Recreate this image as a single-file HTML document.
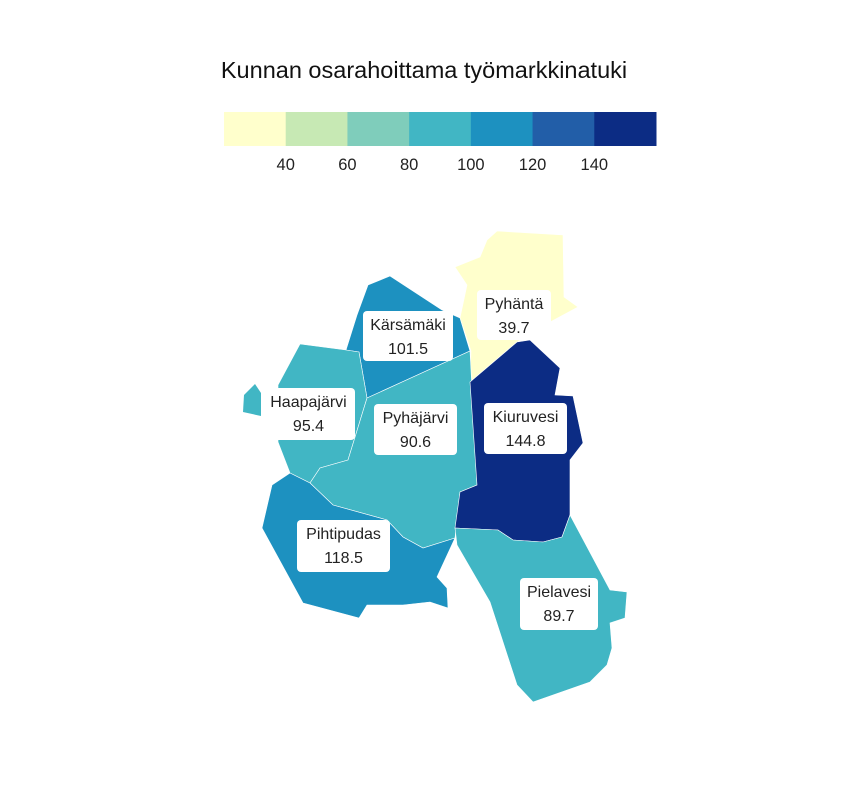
<!DOCTYPE html>
<html><head><meta charset="utf-8"><style>
body{margin:0;background:#fff;font-family:"Liberation Sans",sans-serif}
svg{display:block}
</style></head><body>
<svg id="chart" width="864" height="792">
<text x="424" y="78" text-anchor="middle" font-size="23.5" fill="#111">Kunnan osarahoittama työmarkkinatuki</text>
<g id="legend"></g>
<g id="map"></g>
<g id="labels"></g>
</svg>
<script>
const names=["Pyhäntä","Kärsämäki","Haapajärvi","Pyhäjärvi","Kiuruvesi","Pielavesi","Pihtipudas"];
const values=[39.7,101.5,95.4,90.6,144.8,89.7,118.5];
const legendTicks=[40,60,80,100,120,140];
const colors=["#ffffcc","#c7e9b4","#7fcdbb","#41b6c4","#1d91c0","#225ea8","#0c2c84"];
const shapes=[
[[480,257],[455,267],[467,285],[460,318],[471,351],[470,382],[517,342],[552,321],[578,307],[564,297],[563,235],[497,231],[487,240]],
[[390,276],[368,285],[357,315],[346,350],[359,352],[367,398],[470,351],[460,318],[442,310]],
[[300,344],[346,350],[359,352],[367,398],[348,460],[320,468],[310,483],[290,473],[278,442],[278,385]],
[[367,398],[470,351],[477,485],[460,492],[455,538],[423,548],[403,537],[387,520],[333,505],[310,483],[320,468],[348,460]],
[[470,382],[517,342],[530,340],[560,368],[555,395],[573,396],[583,443],[570,460],[570,515],[562,537],[543,542],[513,540],[498,530],[455,528],[460,492],[477,485]],
[[455,528],[498,530],[513,540],[543,542],[562,537],[570,515],[610,590],[627,592],[625,618],[610,623],[612,648],[607,665],[590,682],[533,702],[517,685],[490,602],[457,545]],
[[290,473],[310,483],[333,505],[387,520],[403,537],[423,548],[455,538],[437,577],[447,588],[448,608],[430,602],[403,605],[367,605],[359,618],[303,603],[262,528],[272,485]]
];
const islet=[[255,384],[261,393],[261,416],[243,412],[244,395]];
const boxes=[[477,290,74,50],[363,311,90,50],[262,388,93,52],[374,404,83,51],[484,403,83,51],[520,578,78,52],[297,520,93,52]];
const NS="http://www.w3.org/2000/svg";
const lx0=224,lw=432,dMin=20,dMax=160;
const sx=v=>lx0+(v-dMin)/(dMax-dMin)*lw;
const col=v=>colors[Math.max(0,Math.min(6,Math.floor((v-dMin)/20)))];
const lg=document.getElementById('legend');
colors.forEach((c,i)=>{const r=document.createElementNS(NS,'rect');
r.setAttribute('x',sx(dMin+i*20));r.setAttribute('y',112);r.setAttribute('width',lw/7+0.5);r.setAttribute('height',34);r.setAttribute('fill',c);


lg.appendChild(r);});
legendTicks.forEach(t=>{const x=document.createElementNS(NS,'text');
x.setAttribute('x',sx(t));x.setAttribute('y',170);x.setAttribute('text-anchor','middle');x.setAttribute('font-size','16.5');x.setAttribute('fill','#222');x.textContent=t;


lg.appendChild(x);});
const mp=document.getElementById('map');
const pts=a=>a.map(p=>p.join(',')).join(' ');
shapes.forEach((s,i)=>{const p=document.createElementNS(NS,'polygon');
p.setAttribute('points',pts(s));p.setAttribute('fill',col(values[i]));p.setAttribute('stroke','#fff');p.setAttribute('stroke-width','0.6');


mp.appendChild(p);
if(i==2){const q=document.createElementNS(NS,'polygon');q.setAttribute('points',pts(islet));q.setAttribute('fill',col(values[i]));


mp.appendChild(q);}});
const lb=document.getElementById('labels');
boxes.forEach((b,i)=>{const g=document.createElementNS(NS,'g');


const r=document.createElementNS(NS,'rect');r.setAttribute('x',b[0]);r.setAttribute('y',b[1]);r.setAttribute('width',b[2]);r.setAttribute('height',b[3]);r.setAttribute('rx',4);r.setAttribute('fill','#fff');g.appendChild(r);
const cx=b[0]+b[2]/2;
[names[i],values[i].toFixed(1)].forEach((t,k)=>{const x=document.createElementNS(NS,'text');x.setAttribute('x',cx);x.setAttribute('y',b[1]+19+k*24);x.setAttribute('text-anchor','middle');x.setAttribute('font-size','16');x.setAttribute('fill','#222');x.textContent=t;g.appendChild(x);});
lb.appendChild(g);});
</script>
</body></html>
